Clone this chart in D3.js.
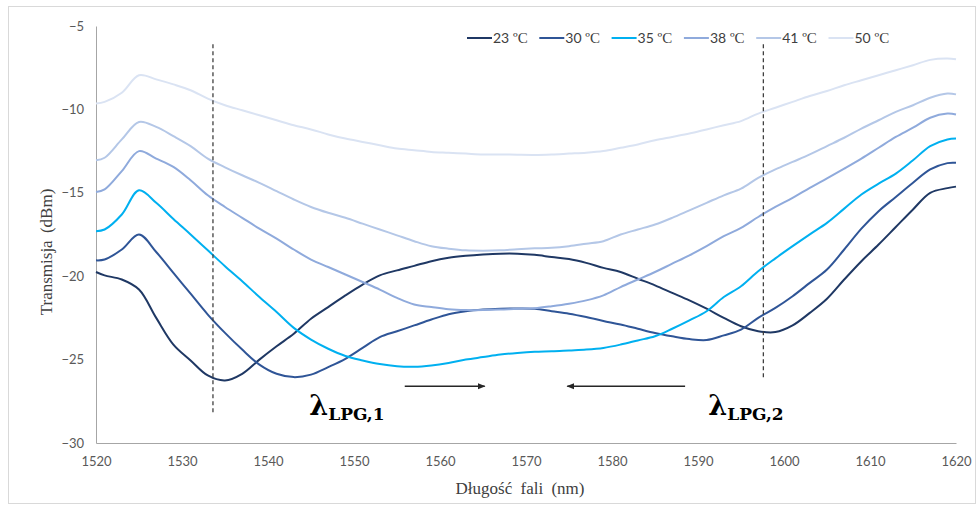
<html>
<head>
<script src="https://d3js.org/d3.v7.min.js"></script>
<style>
body { margin: 0; background: #fff; }
.tick text { font-family: Lato, "Open Sans", sans-serif; font-size: 13px; fill: #595959; }
.title { font-family: "Liberation Serif", serif; font-size: 17px; fill: #404040; }
.lg { font-family: Lato, sans-serif; font-size: 14px; fill: #404040; }
.lam { font-family: "DejaVu Serif", "Liberation Serif", serif; font-weight: bold; fill: #000; }
</style>
</head>
<body>
<svg width="978" height="506"></svg>
<script>
// wavelengths (nm)
var wl = [1520, 1521, 1523, 1525, 1527, 1529, 1531, 1533, 1535, 1537, 1539, 1541, 1543, 1545, 1547, 1549,
  1551, 1553, 1555, 1557, 1559, 1561, 1563, 1565, 1567, 1569, 1571, 1573, 1575, 1577, 1579, 1581, 1583,
  1585, 1587, 1589, 1591, 1593, 1595, 1597, 1599, 1601, 1603, 1605, 1607, 1609, 1611, 1613, 1615, 1617,
  1619, 1620];

var t23 = [-19.75, -19.95, -20.2, -20.8, -22.5, -24.1, -25.05, -25.95, -26.25, -25.85, -25.0, -24.2, -23.45, -22.55,
  -21.85, -21.15, -20.5, -19.95, -19.65, -19.38, -19.1, -18.9, -18.78, -18.7, -18.65, -18.65, -18.72, -18.85,
  -18.97, -19.2, -19.5, -19.75, -20.15, -20.55, -21.0, -21.45, -21.95, -22.5, -23.0, -23.3, -23.35, -22.95,
  -22.2, -21.35, -20.2, -19.1, -18.1, -17.05, -16.0, -15.0, -14.72, -14.63];
var t30 = [-19.05, -19.0, -18.4, -17.5, -18.55, -19.8, -21.05, -22.3, -23.4, -24.4, -25.3, -25.85, -26.05, -25.9,
  -25.45, -24.95, -24.3, -23.65, -23.3, -22.95, -22.6, -22.28, -22.1, -22.0, -21.95, -21.93, -21.95, -22.1,
  -22.25, -22.45, -22.68, -22.9, -23.15, -23.4, -23.6, -23.77, -23.83, -23.55, -23.2, -22.5, -21.9, -21.2,
  -20.4, -19.6, -18.4, -17.15, -16.1, -15.25, -14.4, -13.6, -13.22, -13.2];
var t35 = [-17.3, -17.2, -16.3, -14.85, -15.6, -16.57, -17.5, -18.45, -19.4, -20.3, -21.25, -22.15, -23.1, -23.8,
  -24.35, -24.78, -25.05, -25.27, -25.4, -25.43, -25.35, -25.2, -25.0, -24.85, -24.7, -24.6, -24.53, -24.5,
  -24.45, -24.4, -24.3, -24.1, -23.85, -23.6, -23.15, -22.65, -22.1, -21.25, -20.6, -19.7, -18.93, -18.2,
  -17.49, -16.8, -15.95, -15.1, -14.45, -13.85, -13.05, -12.2, -11.8, -11.75];
var t38 = [-14.95, -14.8, -13.7, -12.5, -12.95, -13.45, -14.25, -15.15, -15.85, -16.5, -17.15, -17.75, -18.4, -19.0,
  -19.45, -19.9, -20.35, -20.8, -21.3, -21.7, -21.85, -21.98, -22.03, -22.03, -22.0, -21.95, -21.92, -21.8,
  -21.65, -21.45, -21.15, -20.65, -20.2, -19.75, -19.25, -18.75, -18.2, -17.6, -17.1, -16.45, -15.85, -15.3,
  -14.7, -14.13, -13.55, -12.95, -12.3, -11.65, -11.1, -10.5, -10.25, -10.3];
var t41 = [-13.05, -12.9, -11.8, -10.75, -11.05, -11.6, -12.2, -12.95, -13.47, -13.95, -14.4, -14.9, -15.4, -15.85,
  -16.2, -16.5, -16.85, -17.2, -17.55, -17.9, -18.2, -18.35, -18.45, -18.47, -18.45, -18.38, -18.33, -18.3,
  -18.2, -18.05, -17.9, -17.5, -17.2, -16.9, -16.5, -16.05, -15.6, -15.15, -14.75, -14.1, -13.6, -13.15,
  -12.7, -12.2, -11.7, -11.15, -10.65, -10.15, -9.75, -9.3, -9.05, -9.1];
var t50 = [-9.65, -9.55, -9.0, -7.95, -8.2, -8.5, -8.85, -9.35, -9.75, -10.05, -10.35, -10.65, -10.95, -11.2,
  -11.5, -11.75, -11.95, -12.15, -12.35, -12.45, -12.55, -12.6, -12.65, -12.7, -12.7, -12.72, -12.73, -12.7,
  -12.65, -12.6, -12.5, -12.3, -12.1, -11.85, -11.65, -11.45, -11.2, -10.95, -10.7, -10.25, -9.9, -9.55,
  -9.2, -8.9, -8.55, -8.25, -7.95, -7.65, -7.35, -7.03, -6.95, -7.0];

var names = ["23", "30", "35", "38", "41", "50"];
var seriesVals = [t23, t30, t35, t38, t41, t50];
var colors = ["#1f3864", "#2f5597", "#00b0f0", "#8faadc", "#b4c7e7", "#dae3f3"];
var xTicks = [1520, 1530, 1540, 1550, 1560, 1570, 1580, 1590, 1600, 1610, 1620];
var yTicks = [-5, -10, -15, -20, -25, -30];

// lambda markers: [wavelength, top, bottom]
var markers = [[1533.6, -6.1, -28.2], [1597.6, -6.1, -26.2]];
// arrows: [from, to] wavelength
var arrows = [[1555.9, 1565.2], [1588.5, 1574.8]];
var lamLabels = [["1", 1544.8], ["2", 1591.2]];

var svg = d3.select("svg");

svg.append("rect").attr("x", 8.5).attr("y", 6.5).attr("width", 967).attr("height", 497)
  .attr("fill", "none").attr("stroke", "#d9d9d9");

var x = d3.scaleLinear().domain([1520, 1620]).range([96, 956]);
var y = d3.scaleLinear().domain([-30, -5]).range([443, 26]);

svg.append("g")
  .attr("transform", "translate(0,443)")
  .call(d3.axisBottom(x).tickValues(xTicks).tickSize(0).tickPadding(14).tickFormat(d3.format("d")))
  .call(g => g.select(".domain").attr("stroke", "#a6a6a6"));

svg.append("g")
  .attr("transform", "translate(96,0)")
  .call(d3.axisLeft(y).tickValues(yTicks).tickSize(0).tickPadding(12))
  .call(g => g.select(".domain").attr("stroke", "#a6a6a6"));

svg.append("text").attr("class", "title").attr("x", 520).attr("y", 494)
  .attr("text-anchor", "middle").attr("word-spacing", 4).text("Długość fali (nm)");
svg.append("text").attr("class", "title")
  .attr("transform", "translate(52,252) rotate(-90)")
  .attr("text-anchor", "middle").attr("word-spacing", 3).text("Transmisja (dBm)");

var line = d3.line()
  .x(function (d) { return x(d[0]); })
  .y(function (d) { return y(d[1]); })
  .curve(d3.curveCatmullRom);

seriesVals.forEach(function (vals, i) {
  svg.append("path")
    .datum(wl.map(function (w, j) { return [w, vals[j]]; }))
    .attr("fill", "none")
    .attr("stroke", colors[i])
    .attr("stroke-width", 2)
    .attr("d", line);
});

// dashed markers
markers.forEach(function (m) {
  svg.append("line")
    .attr("x1", x(m[0])).attr("x2", x(m[0]))
    .attr("y1", y(m[1])).attr("y2", y(m[2]))
    .attr("stroke", "#404040").attr("stroke-width", 1.3)
    .attr("stroke-dasharray", "4,3");
});

// arrows
var defs = svg.append("defs");
defs.append("marker").attr("id", "ah").attr("viewBox", "0 0 10 10")
  .attr("refX", 9).attr("refY", 5).attr("markerWidth", 8).attr("markerHeight", 8)
  .attr("markerUnits", "userSpaceOnUse").attr("orient", "auto")
  .append("path").attr("d", "M0,1 L10,5 L0,9 Z").attr("fill", "#262626");

arrows.forEach(function (a) {
  svg.append("line")
    .attr("x1", x(a[0])).attr("x2", x(a[1]))
    .attr("y1", y(-26.6)).attr("y2", y(-26.6))
    .attr("stroke", "#262626").attr("stroke-width", 1.5)
    .attr("marker-end", "url(#ah)");
});

lamLabels.forEach(function (l) {
  var t = svg.append("text").attr("class", "lam")
    .attr("x", x(l[1])).attr("y", y(-28.3));
  t.append("tspan").attr("font-size", 27).text("λ");
  t.append("tspan").attr("font-size", 17).attr("dy", 5).text("LPG," + l[0]);
});

// legend
var lg = svg.append("g").attr("transform", "translate(467,38)");
names.forEach(function (n, i) {
  var g = lg.append("g").attr("transform", "translate(" + (i * 72.3) + ",0)");
  g.append("line").attr("x1", 0).attr("x2", 25).attr("y1", 0).attr("y2", 0)
    .attr("stroke", colors[i]).attr("stroke-width", 2);
  var t = g.append("text").attr("class", "lg").attr("x", 26).attr("y", 5);
  t.append("tspan").text(n);
  t.append("tspan").attr("font-family", "Liberation Serif").attr("font-size", 15).text(" ºC");
});
</script>
</body>
</html>
